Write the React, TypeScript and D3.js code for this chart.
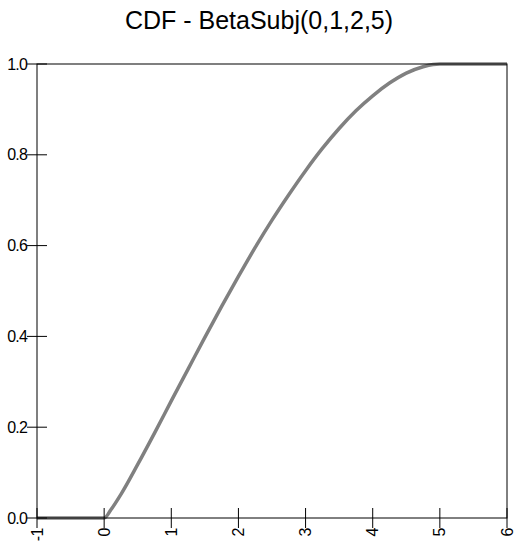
import React from "react";
import * as d3 from "d3";

const title = "CDF - BetaSubj(0,1,2,5)";
const xValues = [-1, 0, 0.1, 0.25, 0.5, 0.75, 1, 1.25, 1.5, 1.75, 2, 2.25, 2.5, 2.75, 3, 3.25, 3.5, 3.75, 4, 4.25, 4.5, 4.75, 4.9, 5, 6];
const cdfValues = [0, 0, 0.018, 0.052, 0.118, 0.187, 0.258, 0.328, 0.398, 0.466, 0.532, 0.596, 0.656, 0.712, 0.765, 0.814, 0.858, 0.897, 0.930, 0.958, 0.980, 0.994, 0.999, 1, 1];
const xTicks = [-1, 0, 1, 2, 3, 4, 5, 6];
const yTicks = [0, 0.2, 0.4, 0.6, 0.8, 1.0];

const W = 518;
const H = 548;
const left = 37;
const right = 507;
const top = 64;
const bottom = 518;

export default function App() {
  const x = d3.scaleLinear().domain([-1, 6]).range([left, right]);
  const y = d3.scaleLinear().domain([0, 1]).range([bottom, top]);
  const pts = xValues.map((v, i) => [v, cdfValues[i]] as [number, number]);
  const line = d3
    .line<[number, number]>()
    .x((d) => x(d[0]))
    .y((d) => y(d[1]))
    .curve(d3.curveMonotoneX);
  const font = "Arial, 'Liberation Sans', sans-serif";
  return (
    <svg
      width={W}
      height={H}
      style={{ position: "absolute", left: 0, top: 0, background: "#fff" }}
      fontFamily={font}
    >
      <rect x={0} y={0} width={W} height={H} fill="#fff" />
      <text x={259} y={29} textAnchor="middle" fontSize={25} fill="#000">
        {title}
      </text>
      <path d={line(pts) || ""} fill="none" stroke="#808080" strokeWidth={3.5} />
      <rect x={left} y={top} width={right - left} height={bottom - top} fill="none" stroke="#000" strokeWidth={1} />
      {yTicks.map((t) => (
        <g key={"y" + t}>
          <line x1={left - 10} x2={left + 10} y1={y(t)} y2={y(t)} stroke="#000" strokeWidth={1} />
          <text x={left - 10} y={y(t)} dy="0.35em" textAnchor="end" fontSize={16} fill="#000" letterSpacing={-0.8}>
            {t.toFixed(1)}
          </text>
        </g>
      ))}
      {xTicks.map((t) => (
        <g key={"x" + t}>
          <line x1={x(t)} x2={x(t)} y1={bottom - 10} y2={bottom + 10} stroke="#000" strokeWidth={1} />
          <text
            transform={`translate(${x(t)},${bottom + 10}) rotate(-90)`}
            dy="0.35em"
            textAnchor="end"
            fontSize={16}
            fill="#000"
            letterSpacing={-0.5}
          >
            {String(t)}
          </text>
        </g>
      ))}
    </svg>
  );
}
